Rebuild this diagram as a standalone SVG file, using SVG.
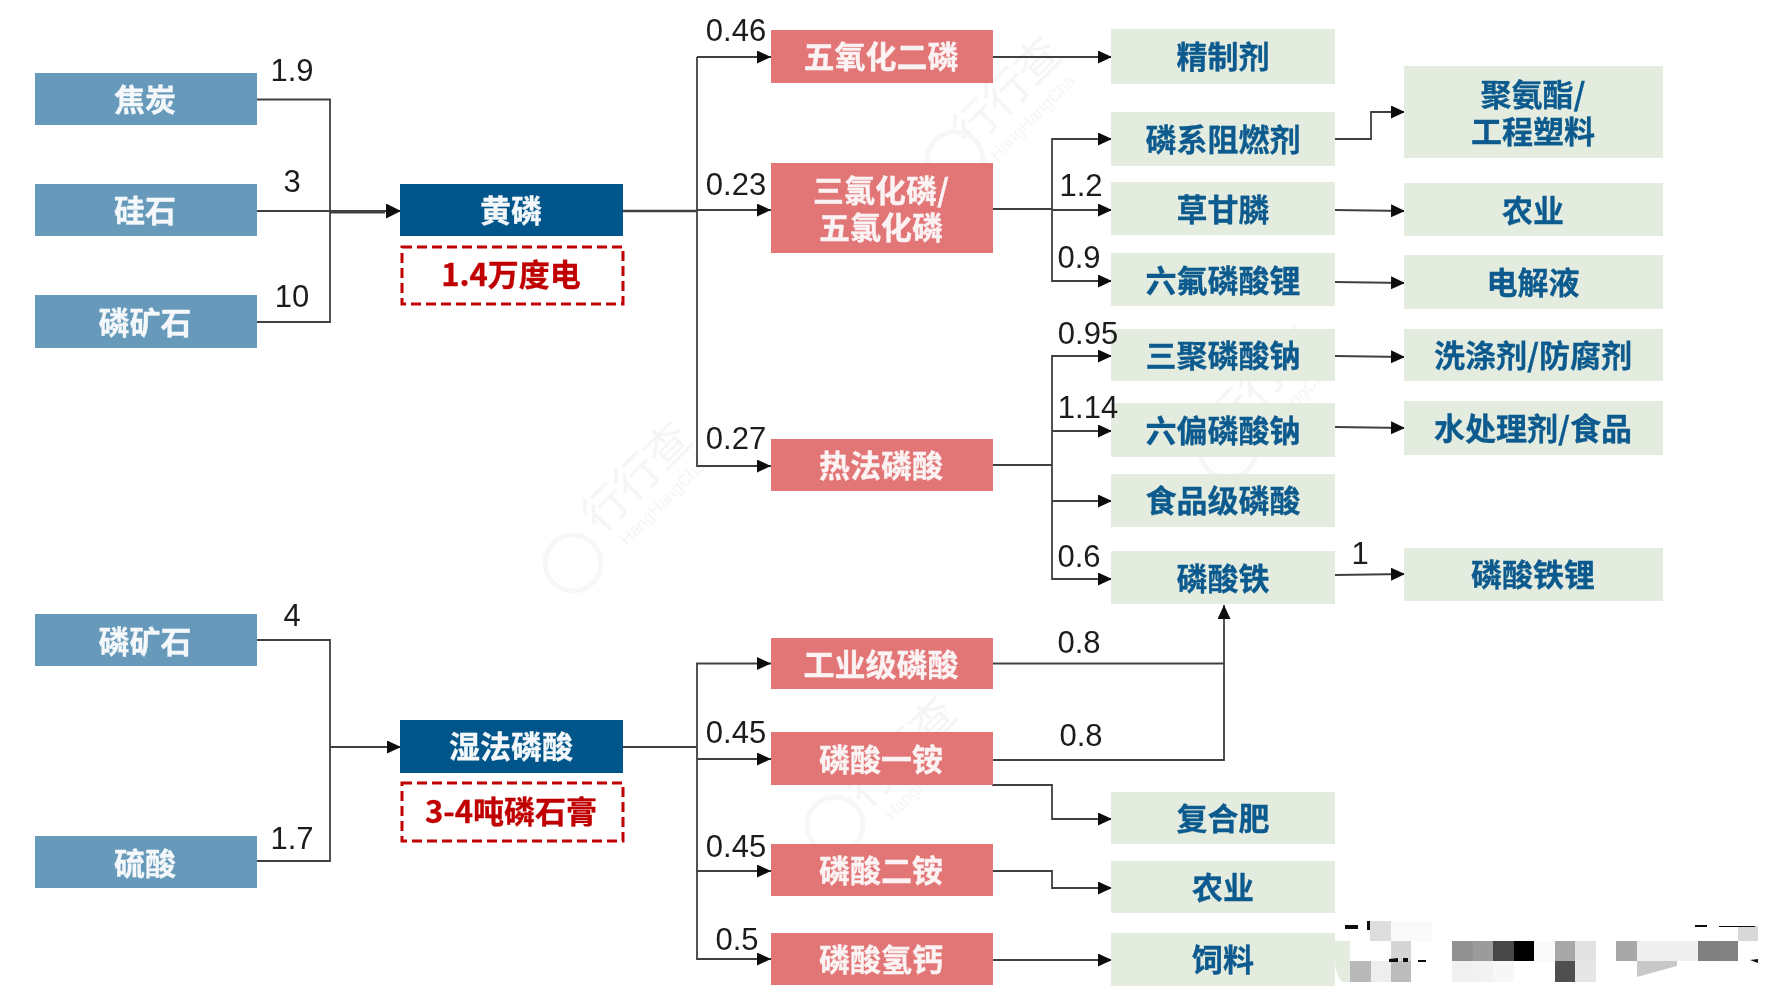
<svg xmlns="http://www.w3.org/2000/svg" width="1790" height="996" viewBox="0 0 1790 996">
<style>
text{font-family:"Noto Sans CJK SC","Liberation Sans",sans-serif;font-weight:700;font-size:31px;text-anchor:middle;dominant-baseline:central;transform:translateY(-2px);stroke-width:.3px}
.src rect{fill:#6699BA}.src text{fill:#F4F8FA;stroke:#F4F8FA}
.main rect{fill:#04568A}.main text{fill:#F4F8FA;stroke:#F4F8FA}
.mid rect{fill:#E27476}.mid text{fill:#FBF3F3;stroke:#FBF3F3}
.end rect{fill:#E4ECDF}.end text{fill:#0B5A8E;stroke:#0B5A8E}
.note rect{fill:none;stroke:#C00000;stroke-width:3;stroke-dasharray:10 5}.note text{fill:#C00000;stroke:#C00000}
#connectors path{fill:none;stroke:#404040;stroke-width:1.8}
.arr{marker-end:url(#a)}
.big{marker-end:url(#c)}
.lab text{font-family:"Liberation Sans",Arial,sans-serif;font-weight:400;font-size:31px;fill:#1a1a1a;transform:none;stroke:none}
.wm text{fill:#f5f5f5;font-size:44px;font-weight:400;transform:none}
.wm .en{font-family:"Liberation Sans",sans-serif;font-size:17px}
.wm circle{fill:none;stroke:#f7f7f7;stroke-width:5}
</style>
<defs>
<marker id="a" markerUnits="userSpaceOnUse" markerWidth="15" markerHeight="13" refX="14" refY="6.5" orient="auto"><path d="M0 0L14 6.5L0 13z" fill="#111"/></marker>
<marker id="c" markerUnits="userSpaceOnUse" markerWidth="16" markerHeight="15" refX="15" refY="7.5" orient="auto"><path d="M0 0L15 7.5L0 15z" fill="#111"/></marker>
<filter id="b" x="-2%" y="-2%" width="104%" height="104%"><feGaussianBlur stdDeviation="0.6"/></filter>
</defs>
<rect width="1790" height="996" fill="#fff"/>
<g filter="url(#b)">
<g class="wm">
<g transform="translate(640 480) rotate(-45)"><text x="0" y="-8">行行查</text><text class="en" x="0" y="32">HangHangCha</text></g><circle cx="573" cy="563" r="28"/>
<g transform="translate(1010 95) rotate(-45)"><text x="0" y="-8">行行查</text><text class="en" x="0" y="32">HangHangCha</text></g><circle cx="955" cy="160" r="28"/>
<g transform="translate(1265 385) rotate(-45)"><text x="0" y="-8">行行查</text><text class="en" x="0" y="32">HangHangCha</text></g><circle cx="1228" cy="450" r="28"/>
<g transform="translate(905 755) rotate(-45)"><text x="0" y="-8">行行查</text><text class="en" x="0" y="32">HangHangCha</text></g><circle cx="835" cy="825" r="28"/>
</g>
<g id="connectors">
<path d="M257 99.5H330V322H257"/>
<path class="big" d="M257 211H401"/>
<path d="M330 212H385" style="stroke-width:3"/>
<path d="M623 211H697" style="stroke-width:2.4"/>
<path class="arr" d="M697 57H771"/>
<path class="arr" d="M697 210H771"/>
<path class="arr" d="M697 211V466H771"/>
<path d="M697 211V57"/>
<path class="arr" d="M992 57H1112"/>
<path class="arr" d="M1052 209V139H1112"/>
<path d="M992 209H1052" style="stroke-width:2.2"/>
<path class="arr" d="M1052 210H1112"/>
<path class="arr" d="M1052 209V281H1112"/>
<path class="arr" d="M1335 139H1371V112H1405"/>
<path class="arr" d="M1335 210L1405 211"/>
<path class="arr" d="M1335 282L1405 283"/>
<path class="arr" d="M1335 356L1405 357"/>
<path class="arr" d="M1335 427L1405 428"/>
<path d="M992 465H1052"/>
<path class="arr" d="M1052 465V356H1112"/>
<path class="arr" d="M1052 431H1112"/>
<path class="arr" d="M1052 501H1112"/>
<path class="arr" d="M1052 465V579H1112"/>
<path class="arr" d="M1335 575L1405 574"/>
<path d="M257 640H330V861H257"/>
<path class="arr" d="M330 747H401"/>
<path d="M623 747H697" style="stroke-width:2.2"/>
<path class="arr" d="M697 747V663.500H771"/>
<path class="arr" d="M697 759H771"/>
<path class="arr" d="M697 747V871H771"/>
<path class="arr" d="M697 871V959H771"/>
<path d="M992 663.500H1224"/>
<path class="arr" d="M992 760H1224V605"/>
<path class="arr" d="M992 785H1052V819H1112"/>
<path class="arr" d="M992 871H1052V888H1112"/>
<path class="arr" d="M992 960H1112"/>
</g>
<g id="n1" class="src"><rect x="35" y="73" width="222" height="52"/><text x="145" y="99">焦炭</text></g>
<g id="n2" class="src"><rect x="35" y="184" width="222" height="52"/><text x="145" y="210">硅石</text></g>
<g id="n3" class="src"><rect x="35" y="295" width="222" height="53"/><text x="145" y="322">磷矿石</text></g>
<g id="n4" class="src"><rect x="35" y="614" width="222" height="52"/><text x="145" y="641">磷矿石</text></g>
<g id="n5" class="src"><rect x="35" y="836" width="222" height="52"/><text x="145" y="863">硫酸</text></g>
<g id="n6" class="main"><rect x="400" y="184" width="223" height="52"/><text x="511" y="210">黄磷</text></g>
<g id="n7" class="main"><rect x="400" y="720" width="223" height="53"/><text x="511" y="746">湿法磷酸</text></g>
<g id="n8" class="note"><rect x="402" y="247" width="221" height="57"/><text x="511" y="274">1.4万度电</text></g>
<g id="n9" class="note"><rect x="402" y="783" width="221" height="58"/><text x="511" y="811">3-4吨磷石膏</text></g>
<g id="n10" class="mid"><rect x="771" y="30" width="222" height="53"/><text x="881" y="56">五氧化二磷</text></g>
<g id="n11" class="mid"><rect x="771" y="163" width="222" height="90"/><text x="881" y="190"><tspan x="881" y="190">三氯化磷/</tspan><tspan x="881" y="227">五氯化磷</tspan></text></g>
<g id="n12" class="mid"><rect x="771" y="439" width="222" height="52"/><text x="881" y="465">热法磷酸</text></g>
<g id="n13" class="mid"><rect x="771" y="638" width="222" height="51"/><text x="881" y="664">工业级磷酸</text></g>
<g id="n14" class="mid"><rect x="771" y="732" width="222" height="53"/><text x="881" y="759">磷酸一铵</text></g>
<g id="n15" class="mid"><rect x="771" y="844" width="222" height="52"/><text x="881" y="870">磷酸二铵</text></g>
<g id="n16" class="mid"><rect x="771" y="933" width="222" height="52"/><text x="881" y="959">磷酸氢钙</text></g>
<g id="n17" class="end"><rect x="1111" y="29" width="224" height="55"/><text x="1223" y="56">精制剂</text></g>
<g id="n18" class="end"><rect x="1111" y="112" width="224" height="54"/><text x="1223" y="139">磷系阻燃剂</text></g>
<g id="n19" class="end"><rect x="1111" y="182" width="224" height="53"/><text x="1223" y="209">草甘膦</text></g>
<g id="n20" class="end"><rect x="1111" y="253" width="224" height="53"/><text x="1223" y="280">六氟磷酸锂</text></g>
<g id="n21" class="end"><rect x="1111" y="329" width="224" height="52"/><text x="1223" y="355">三聚磷酸钠</text></g>
<g id="n22" class="end"><rect x="1111" y="403" width="224" height="54"/><text x="1223" y="430">六偏磷酸钠</text></g>
<g id="n23" class="end"><rect x="1111" y="474" width="224" height="53"/><text x="1223" y="500">食品级磷酸</text></g>
<g id="n24" class="end"><rect x="1111" y="551" width="224" height="53"/><text x="1223" y="578">磷酸铁</text></g>
<g id="n25" class="end"><rect x="1111" y="792" width="224" height="52"/><text x="1223" y="818">复合肥</text></g>
<g id="n26" class="end"><rect x="1111" y="861" width="224" height="52"/><text x="1223" y="887">农业</text></g>
<g id="n27" class="end"><rect x="1111" y="933" width="224" height="53"/><path d="M1335 941H1350V982H1342Q1335 975 1335 960z" fill="#E4ECDF"/><text x="1223" y="959">饲料</text></g>
<g id="n28" class="end"><rect x="1404" y="66" width="259" height="92"/><text x="1533" y="94"><tspan x="1533" y="94">聚氨酯/</tspan><tspan x="1533" y="131">工程塑料</tspan></text></g>
<g id="n29" class="end"><rect x="1404" y="183" width="259" height="53"/><text x="1533" y="210">农业</text></g>
<g id="n30" class="end"><rect x="1404" y="255" width="259" height="54"/><text x="1533" y="282">电解液</text></g>
<g id="n31" class="end"><rect x="1404" y="329" width="259" height="52"/><text x="1533" y="355">洗涤剂/防腐剂</text></g>
<g id="n32" class="end"><rect x="1404" y="401" width="259" height="54"/><text x="1533" y="428">水处理剂/食品</text></g>
<g id="n33" class="end"><rect x="1404" y="548" width="259" height="53"/><text x="1533" y="574">磷酸铁锂</text></g>
<g class="lab">
<text x="292" y="70">1.9</text><text x="292" y="181">3</text><text x="292" y="296">10</text>
<text x="292" y="615">4</text><text x="292" y="838">1.7</text>
<text x="736" y="30">0.46</text><text x="736" y="184">0.23</text><text x="736" y="438">0.27</text>
<text x="736" y="732">0.45</text><text x="736" y="846">0.45</text><text x="737" y="939">0.5</text>
<text x="1081" y="185">1.2</text><text x="1079" y="257">0.9</text><text x="1088" y="333">0.95</text>
<text x="1088" y="407">1.14</text><text x="1079" y="556">0.6</text><text x="1079" y="642">0.8</text>
<text x="1081" y="735">0.8</text><text x="1360" y="553">1</text>
</g>
<g id="mosaic">
<rect x="1370" y="921" width="21" height="20" fill="#ddd"/><rect x="1391" y="921" width="41" height="20" fill="#fafafa"/><rect x="1738" y="926" width="20" height="15" fill="#d8d8d8"/>
<rect x="1391" y="941" width="20" height="20" fill="#d5d5d5"/><rect x="1452" y="941" width="21" height="20" fill="#919191"/><rect x="1473" y="941" width="20" height="20" fill="#9b9b9b"/><rect x="1493" y="941" width="21" height="20" fill="#474747"/><rect x="1514" y="941" width="20" height="20" fill="#000"/><rect x="1534" y="941" width="21" height="20" fill="#fafafa"/><rect x="1555" y="941" width="20" height="20" fill="#a8a8a8"/><rect x="1575" y="941" width="21" height="20" fill="#e2e2e2"/><rect x="1616" y="941" width="21" height="20" fill="#a8a8a8"/><rect x="1637" y="941" width="61" height="20" fill="#efefef"/><rect x="1698" y="941" width="20" height="20" fill="#808080"/><rect x="1718" y="941" width="20" height="20" fill="#828282"/>
<rect x="1350" y="961" width="21" height="21" fill="#b8b8b8"/><rect x="1371" y="961" width="20" height="21" fill="#eee"/><rect x="1391" y="961" width="20" height="21" fill="#bcbcbc"/><rect x="1452" y="961" width="21" height="21" fill="#f0f0f0"/><rect x="1473" y="961" width="20" height="21" fill="#f2f2f2"/><rect x="1493" y="961" width="21" height="21" fill="#f7f7f7"/><rect x="1555" y="961" width="20" height="21" fill="#505050"/><rect x="1575" y="961" width="21" height="21" fill="#e6e6e6"/>
<path d="M1637 961H1677V966L1637 977z" fill="#c8c8c8"/>
<path d="M1345 925H1358V929H1345zM1367 921H1370V930H1367zM1389 959L1398 958V962H1389zM1403 958H1408V962H1403zM1418 960H1426V962H1418zM1695 925H1707V927H1695zM1719 926H1755V927H1719zM1750 960L1758 959V963z" fill="#111"/>
</g>
</g>
</svg>
